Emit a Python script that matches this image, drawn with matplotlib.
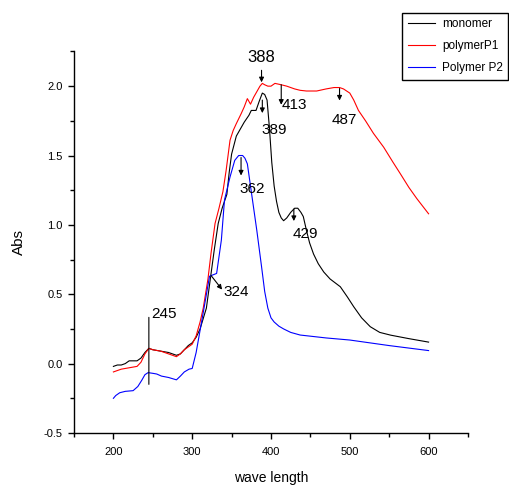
import numpy as np
import matplotlib
matplotlib.use('Agg')
import matplotlib.pyplot as plt
import matplotlib.ticker as mticker
from matplotlib.transforms import offset_copy

# UV-vis spectra: wavelength (nm) and absorbance
mono_wl = [200, 205, 210, 215, 220, 230, 235, 240, 245, 250, 260, 270, 280, 285,
           290, 295, 300, 305, 310, 318, 323, 328, 333, 338, 344, 347, 350, 356,
           360, 366, 372, 375, 381, 385, 389, 392, 395, 398, 401, 404, 407, 410,
           413, 416, 420, 425, 430, 434, 438, 441, 445, 449, 454, 460, 467, 475,
           488, 497, 505, 515, 526, 538, 552, 575, 600]
mono_abs = [-0.02, -0.01, -0.01, 0.00, 0.02, 0.02, 0.04, 0.08, 0.11, 0.10, 0.09,
            0.08, 0.06, 0.07, 0.10, 0.13, 0.15, 0.19, 0.25, 0.40, 0.61, 0.82,
            1.01, 1.12, 1.22, 1.38, 1.51, 1.64, 1.68, 1.74, 1.79, 1.825, 1.825,
            1.89, 1.95, 1.94, 1.90, 1.70, 1.45, 1.28, 1.17, 1.09, 1.05, 1.03,
            1.05, 1.09, 1.12, 1.12, 1.09, 1.06, 0.96, 0.87, 0.79, 0.72, 0.66,
            0.61, 0.554, 0.48, 0.41, 0.33, 0.266, 0.225, 0.205, 0.18, 0.155]

p1_wl = [200, 210, 220, 230, 235, 240, 245, 250, 260, 270, 280, 285, 290, 295,
         300, 305, 310, 314, 320, 324, 329, 334, 339, 343, 348, 352, 356, 362,
         366, 370, 374, 378, 382, 386, 389, 392, 396, 400, 405, 413, 420, 430,
         437, 445, 458, 470, 480, 487, 492, 500, 505, 511, 520, 530, 543, 555,
         564, 575, 585, 600]
p1_abs = [-0.06, -0.04, -0.03, -0.02, 0.01, 0.07, 0.11, 0.10, 0.09, 0.07, 0.05,
          0.07, 0.10, 0.12, 0.14, 0.20, 0.30, 0.40, 0.61, 0.80, 1.01, 1.12,
          1.24, 1.39, 1.61, 1.68, 1.73, 1.80, 1.85, 1.91, 1.87, 1.92, 1.96,
          2.00, 2.02, 2.01, 2.00, 2.00, 2.02, 2.01, 2.00, 1.98, 1.97, 1.965,
          1.965, 1.98, 1.99, 1.99, 1.98, 1.95, 1.90, 1.825, 1.75, 1.66, 1.56,
          1.45, 1.37, 1.27, 1.19, 1.08]

p2_wl = [200, 203, 208, 215, 225, 231, 236, 240, 244, 250, 255, 261, 270, 280,
         285, 290, 296, 300, 305, 310, 315, 322, 331, 337, 341, 348, 354, 359,
         364, 367, 370, 375, 382, 388, 392, 396, 400, 404, 410, 416, 425, 437,
         470, 500, 550, 600]
p2_abs = [-0.25, -0.23, -0.21, -0.20, -0.195, -0.165, -0.12, -0.08, -0.065,
          -0.07, -0.075, -0.09, -0.10, -0.117, -0.09, -0.06, -0.04, -0.035,
          0.08, 0.24, 0.40, 0.63, 0.65, 0.89, 1.18, 1.345, 1.465, 1.50, 1.50,
          1.48, 1.44, 1.24, 0.96, 0.70, 0.52, 0.40, 0.33, 0.30, 0.27, 0.25,
          0.225, 0.206, 0.185, 0.17, 0.13, 0.094]

labels = ['monomer', 'polymerP1', 'Polymer P2']
colors = ['black', 'red', 'blue']

# peak labels (nm) and which spectrum each one marks
peak_nm = [388, 389, 413, 487, 362, 429, 324]
peak_series = [1, 0, 1, 1, 2, 0, 2]
shoulder_nm = 245

series = [(mono_wl, mono_abs), (p1_wl, p1_abs), (p2_wl, p2_abs)]

plt.rcParams['font.family'] = ['Liberation Sans', 'DejaVu Sans']

fig = plt.figure(figsize=(5.09, 4.86), dpi=100)
ax = fig.add_axes([0.1454, 0.1091, 0.774, 0.785])

for (wl, a), lab, c in zip(series, labels, colors):
    ax.plot(wl, a, color=c, lw=0.8, label=lab)

ax.set_xlim(150, 650)
ax.set_ylim(-0.5, 2.25)
ax.xaxis.set_major_locator(mticker.FixedLocator([200, 300, 400, 500, 600]))
ax.xaxis.set_minor_locator(mticker.MultipleLocator(50))
ax.yaxis.set_major_locator(mticker.FixedLocator([-0.5, 0.0, 0.5, 1.0, 1.5, 2.0]))
ax.yaxis.set_minor_locator(mticker.MultipleLocator(0.25))
ax.yaxis.set_major_formatter(mticker.FormatStrFormatter('%.1f'))

for s in ['top', 'right']:
    ax.spines[s].set_visible(False)
for s in ['left', 'bottom']:
    ax.spines[s].set_linewidth(1.0)

ax.tick_params(which='major', direction='out', length=4, width=1.0,
               labelsize=8, color='black')
ax.tick_params(which='minor', direction='out', length=3, width=1.0)
ax.tick_params(axis='y', pad=4)
ax.tick_params(axis='x', pad=6)

ax.set_xlabel('wave length', fontsize=10)
ax.set_ylabel('Abs', fontsize=11)
ax.xaxis.set_label_coords(0.5, -0.1)
ax.yaxis.set_label_coords(-0.121, 0.5)

leg = ax.legend(loc='upper right', bbox_to_anchor=(508 / 509, 1 - 13 / 486),
                bbox_transform=fig.transFigure, fancybox=False, framealpha=1,
                edgecolor='black', fontsize=8.5, borderpad=0.45, labelspacing=0.85,
                handlelength=2.3, handletextpad=0.6, borderaxespad=0)
leg.get_frame().set_linewidth(1.0)


def shifted(dx, dy):
    # data transform nudged by a few pixels
    return offset_copy(ax.transData, fig=fig, x=dx, y=dy, units='dots')


# arrow tail/head offsets and text placement, in pixels from the curve
arrow_layout = {
    388: ((0, 14), (0, 2), (0, 27), 'center', 12),
    389: ((0, -7), (0, -20), (-1, -37), 'left', 11),
    413: ((0, 0), (0, -20), (0, -20), 'left', 11),
    487: ((0, -1), (0, -13), (5, -32), 'center', 11),
    362: ((0, -2), (0, -20), (11, -33), 'center', 11),
    429: ((0, 0), (0, -12), (12, -25), 'center', 11),
    324: ((0, 0), (11, -14), (12, -16), 'left', 11),
}

for nm, si in zip(peak_nm, peak_series):
    wl, a = series[si]
    v = np.interp(nm, wl, a)
    tail, head, txt, ha, fs = arrow_layout[nm]
    ax.annotate('', xy=(nm, v), xycoords=shifted(*head),
                xytext=(nm, v), textcoords=shifted(*tail),
                arrowprops=dict(arrowstyle='-|>', color='black', lw=0.8,
                                shrinkA=0, shrinkB=0, mutation_scale=7))
    ax.text(nm, v, str(nm), transform=shifted(*txt), ha=ha, va='center',
            fontsize=fs)

# plain marker line at the 245 nm shoulder
v245 = np.interp(shoulder_nm, p1_wl, p1_abs)
ax.annotate('', xy=(shoulder_nm, v245), xycoords=shifted(0, -36),
            xytext=(shoulder_nm, v245), textcoords=shifted(0, 31),
            arrowprops=dict(arrowstyle='-', color='black', lw=0.8,
                            shrinkA=0, shrinkB=0))
ax.text(shoulder_nm, v245, str(shoulder_nm), transform=shifted(2, 34),
        ha='left', va='center', fontsize=11)

fig.savefig('out.png', dpi=100)
